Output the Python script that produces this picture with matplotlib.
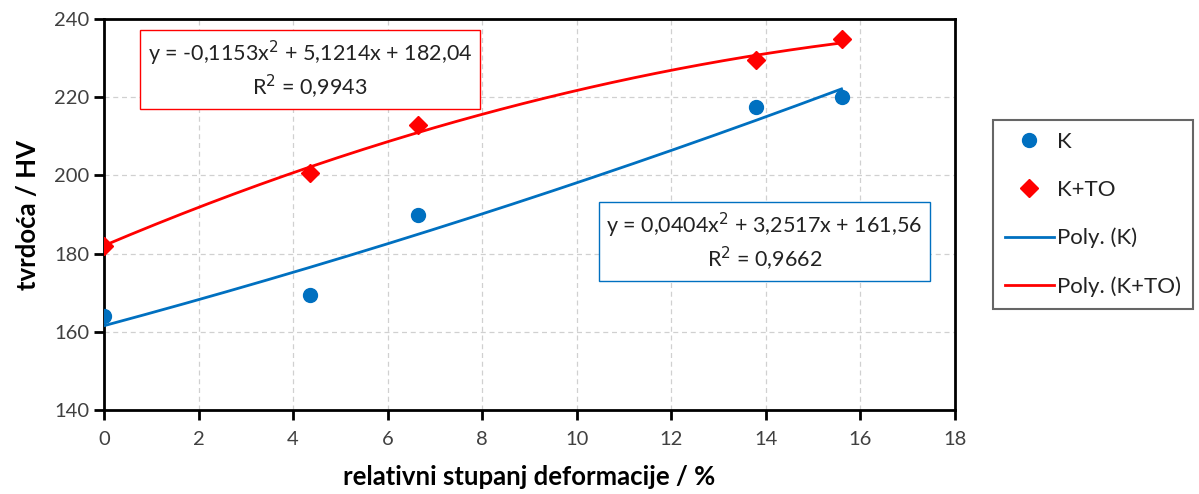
import numpy as np
import matplotlib.pyplot as plt

plt.rcParams['font.family'] = ['Lato', 'DejaVu Sans']

# measured data
deform = [0, 4.35, 6.65, 13.8, 15.6]
hv_k = [164, 169.5, 190, 217.5, 220]
hv_kto = [182, 200.5, 213, 229.5, 235]

# trendline coefficients shown on chart
coef_k = [0.0404, 3.2517, 161.56]
coef_kto = [-0.1153, 5.1214, 182.04]
eq_k = 'y = 0,0404x$^2$ + 3,2517x + 161,56\nR$^2$ = 0,9662'
eq_kto = 'y = -0,1153x$^2$ + 5,1214x + 182,04\nR$^2$ = 0,9943'

blue = '#0070C0'
red = '#FF0000'

fig = plt.figure(figsize=(11.99, 4.94), dpi=100)
ax = fig.add_axes([0.0867, 0.170, 0.7098, 0.7915])

xs = np.linspace(0, max(deform), 200)
ax.plot(deform, hv_k, 'o', color=blue, markersize=10, label='K', zorder=4)
ax.plot(deform, hv_kto, 'D', color=red, markersize=9.5, label='K+TO', zorder=4)
ax.plot(xs, np.polyval(coef_k, xs), color=blue, lw=2, label='Poly. (K)', zorder=3)
ax.plot(xs, np.polyval(coef_kto, xs), color=red, lw=2, label='Poly. (K+TO)', zorder=3)

ax.set_xlim(0, 18)
ax.set_ylim(140, 240)
ax.set_xticks(range(0, 19, 2))
ax.set_yticks(range(140, 241, 20))
ax.grid(True, ls=(0, (4, 3)), color='#D0D0D0', lw=0.9)
ax.set_axisbelow(True)
for s in ax.spines.values():
    s.set_linewidth(2)
    s.set_color('black')
ax.tick_params(direction='out', length=7, width=2, labelsize=14.5, colors='black',
               labelcolor='#404040')
ax.tick_params(axis='x', pad=8)

ax.set_xlabel('relativni stupanj deformacije / %', fontsize=18.5, fontweight='bold', labelpad=12)
ax.set_ylabel('tvrdoća / HV', fontsize=18.5, fontweight='bold', labelpad=10)

ax.text(4.36, 227, eq_kto, ha='center', va='center', fontsize=15.5, linespacing=1.25,
        color='#222222',
        bbox=dict(boxstyle='square,pad=0.35', fc='white', ec=red, lw=1))
ax.text(13.97, 183, eq_k, ha='center', va='center', fontsize=15.5, linespacing=1.25,
        color='#222222',
        bbox=dict(boxstyle='square,pad=0.35', fc='white', ec=blue, lw=1))

leg = fig.legend(loc='upper left', bbox_to_anchor=(0.828, 0.757), fontsize=16,
                 frameon=True, fancybox=False, edgecolor='#404040', labelspacing=1.25,
                 handlelength=2.2, borderpad=0.55, handletextpad=0.15,
                 borderaxespad=0)
leg.get_frame().set_linewidth(1.5)
for t in leg.get_texts():
    t.set_color('#222222')

fig.savefig('out.png', dpi=100)
